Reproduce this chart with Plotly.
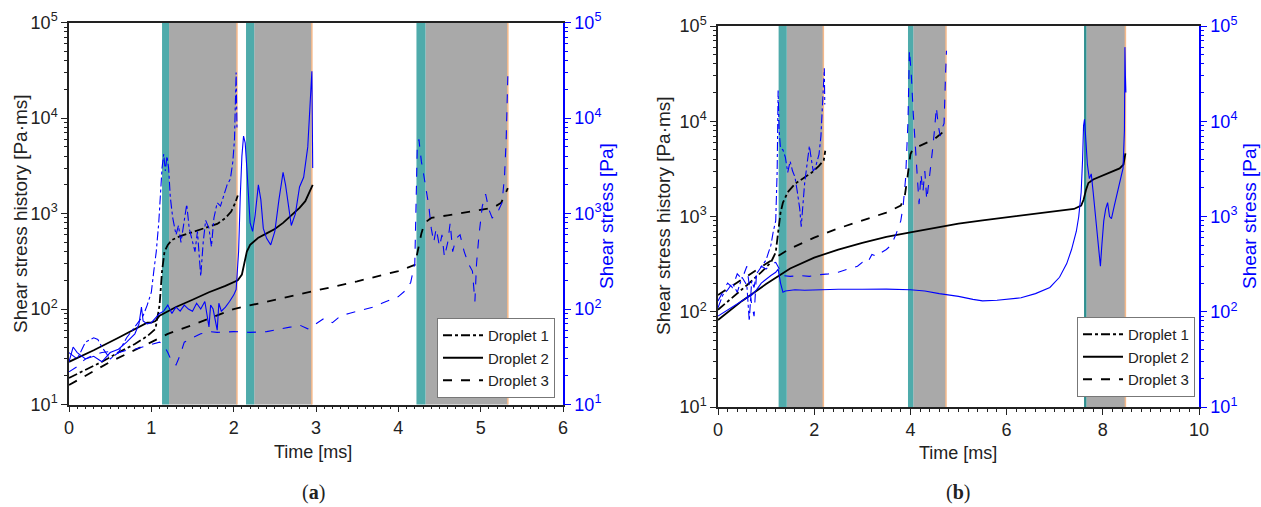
import plotly.graph_objects as go

# ---------------- Panel (a) data ----------------
a_t1 = [0, 0.2, 0.4, 0.6, 0.8, 0.95, 1.05, 1.1, 1.13, 1.16, 1.2, 1.25, 1.35, 1.5, 1.65, 1.8, 1.9, 1.97, 2.02, 2.05]
a_h1 = [19, 23, 28, 35, 43, 52, 62, 110, 250, 400, 470, 530, 580, 640, 700, 780, 900, 1050, 1300, 1550]
a_t2 = [0, 0.3, 0.6, 0.9, 0.95, 1.0, 1.05, 1.1, 1.3, 1.5, 1.7, 1.9, 2.05, 2.1, 2.13, 2.16, 2.2, 2.3, 2.4, 2.5, 2.6, 2.7, 2.8, 2.87, 2.92, 2.96]
a_h2 = [28, 37, 50, 68, 72, 72, 75, 85, 105, 125, 150, 175, 200, 230, 300, 400, 470, 560, 620, 690, 800, 950, 1150, 1350, 1650, 2000]
a_t3 = [0, 0.5, 1.0, 1.2, 1.5, 2.0, 2.5, 3.0, 3.5, 4.0, 4.2, 4.24, 4.28, 4.32, 4.4, 4.6, 4.8, 5.0, 5.15, 5.25, 5.33]
a_h3 = [16, 28, 45, 55, 68, 100, 125, 155, 195, 250, 290, 420, 620, 800, 900, 960, 1020, 1080, 1150, 1300, 1850]

a_st1 = [0, 0.1, 0.2, 0.3, 0.35, 0.4, 0.5, 0.6, 0.7, 0.8, 0.9, 0.95, 1.0, 1.03, 1.06, 1.09, 1.11, 1.13, 1.15, 1.17, 1.19, 1.21, 1.23, 1.26, 1.3, 1.33, 1.36, 1.4, 1.43, 1.46, 1.5, 1.53, 1.56, 1.6, 1.63, 1.66, 1.7, 1.73, 1.76, 1.8, 1.84, 1.88, 1.92, 1.96, 1.99, 2.01, 2.03, 2.04]
a_s1 = [35, 30, 45, 50, 48, 40, 30, 35, 50, 65, 85, 110, 150, 250, 400, 800, 1500, 3000, 4200, 2800, 4000, 3000, 1500, 900, 600, 750, 500, 800, 1250, 700, 500, 400, 650, 220, 500, 850, 700, 450, 900, 1300, 1200, 1600, 2000, 2300, 3500, 6000, 30000, 8000]
a_st2 = [0, 0.05, 0.1, 0.2, 0.3, 0.4, 0.5, 0.6, 0.7, 0.8, 0.85, 0.88, 0.9, 0.95, 1.0, 1.05, 1.1, 1.15, 1.2, 1.25, 1.3, 1.35, 1.4, 1.45, 1.5, 1.55, 1.6, 1.65, 1.7, 1.72, 1.75, 1.8, 1.82, 1.85, 1.9, 1.95, 2.0, 2.03, 2.06, 2.08, 2.1, 2.12, 2.14, 2.16, 2.18, 2.2, 2.23, 2.26, 2.3, 2.33, 2.36, 2.4, 2.45, 2.5, 2.55, 2.6, 2.63, 2.66, 2.7, 2.75, 2.8, 2.85, 2.9, 2.93, 2.95, 2.96]
a_s2 = [28, 40, 35, 30, 32, 28, 35, 38, 45, 55, 70, 105, 75, 70, 72, 80, 90, 95, 110, 90, 105, 95, 110, 100, 95, 115, 100, 120, 65, 110, 100, 60, 115, 95, 105, 120, 140, 160, 400, 1500, 4000, 6500, 5500, 3000, 1500, 800, 650, 950, 2000, 1400, 700, 550, 470, 650, 1400, 2700, 2000, 1300, 750, 1000, 1900, 2400, 5000, 15000, 31000, 3000]
a_st3 = [0, 0.1, 0.2, 0.3, 0.4, 0.5, 0.6, 0.7, 0.8, 0.9, 1.0, 1.1, 1.15, 1.2, 1.25, 1.3, 1.35, 1.4, 1.5, 1.6, 1.7, 1.8, 2.0, 2.2, 2.4, 2.5, 2.6, 2.7, 2.8, 2.9, 3.0, 3.1, 3.2, 3.3, 3.4, 3.5, 3.6, 3.7, 3.8, 3.9, 4.0, 4.1, 4.15, 4.2, 4.23, 4.25, 4.28, 4.31, 4.34, 4.37, 4.4, 4.43, 4.46, 4.5, 4.53, 4.56, 4.6, 4.63, 4.66, 4.7, 4.75, 4.8, 4.85, 4.9, 4.93, 4.95, 4.98, 5.02, 5.06, 5.1, 5.14, 5.18, 5.22, 5.26, 5.29, 5.31, 5.33]
a_s3 = [22, 25, 30, 33, 35, 36, 35, 37, 38, 40, 42, 45, 42, 35, 28, 26, 33, 45, 50, 55, 58, 57, 58, 57, 58, 60, 62, 65, 68, 62, 70, 80, 72, 85, 90, 95, 100, 105, 115, 125, 135, 160, 190, 300, 5000, 6000, 3500, 2500, 1800, 1200, 700, 500, 700, 450, 600, 350, 500, 800, 400, 550, 600, 400, 300, 250, 120, 300, 600, 1200, 1600, 1100, 900, 950, 1100, 1300, 2500, 6000, 28000]

# ---------------- Panel (b) data ----------------
b_t1 = [0, 0.3, 0.6, 0.9, 1.1, 1.2, 1.25, 1.3, 1.35, 1.45, 1.6, 1.8, 1.95, 2.1, 2.2, 2.23]
b_h1 = [105, 140, 190, 260, 330, 420, 650, 1100, 1400, 1800, 2200, 2600, 2900, 3400, 3900, 4900]
b_t2 = [0, 0.5, 1.0, 1.5, 2.0, 2.5, 3.0, 3.5, 4.0, 4.5, 5.0, 5.5, 6.0, 6.5, 7.0, 7.4, 7.55, 7.6, 7.65, 7.7, 7.8, 8.0, 8.2, 8.35, 8.43, 8.47]
b_h2 = [82, 130, 195, 285, 370, 450, 530, 610, 680, 760, 840, 910, 980, 1050, 1120, 1200, 1300, 1500, 1900, 2250, 2450, 2700, 2950, 3200, 3500, 4600]
b_t3 = [0, 0.5, 1.0, 1.3, 1.5, 2.0, 2.5, 3.0, 3.5, 3.8, 3.88, 3.94, 4.0, 4.05, 4.15, 4.3, 4.5, 4.65, 4.74]
b_h3 = [150, 220, 320, 400, 460, 600, 750, 900, 1100, 1300, 1600, 2600, 4500, 5100, 5400, 5800, 6500, 7500, 8800]

b_st1 = [0, 0.1, 0.2, 0.3, 0.4, 0.5, 0.6, 0.65, 0.7, 0.75, 0.8, 0.9, 1.0, 1.05, 1.1, 1.15, 1.2, 1.23, 1.25, 1.27, 1.3, 1.35, 1.4, 1.45, 1.5, 1.55, 1.6, 1.65, 1.7, 1.73, 1.76, 1.8, 1.85, 1.9, 1.94, 1.98, 2.02, 2.06, 2.1, 2.14, 2.18, 2.21, 2.22]
b_s1 = [110, 150, 170, 200, 160, 230, 190, 80, 210, 180, 250, 300, 350, 420, 500, 700, 900, 3000, 21000, 8000, 5200, 5000, 4200, 2900, 3800, 3000, 2600, 1800, 1200, 780, 1200, 2200, 3500, 5500, 4000, 3000, 3200, 3800, 4500, 7000, 20000, 36000, 15000]
b_st2 = [0, 0.2, 0.4, 0.6, 0.7, 0.8, 0.9, 1.0, 1.1, 1.2, 1.25, 1.3, 1.35, 1.4, 1.6, 1.8, 2.0, 2.5, 3.0, 3.5, 4.0, 4.3, 4.6, 5.0, 5.3, 5.5, 5.8, 6.0, 6.3, 6.6, 6.9, 7.1, 7.25, 7.35, 7.45, 7.5, 7.55, 7.58, 7.6, 7.62, 7.65, 7.68, 7.72, 7.76, 7.8, 7.84, 7.88, 7.92, 7.95, 7.98, 8.02, 8.06, 8.1, 8.14, 8.18, 8.24, 8.3, 8.36, 8.42, 8.45, 8.46, 8.47, 8.48]
b_s2 = [90, 105, 120, 140, 150, 170, 200, 220, 240, 260, 280, 200, 160, 165, 170, 168, 170, 172, 172, 173, 170, 165, 155, 145, 135, 130, 132, 135, 140, 155, 180, 230, 320, 450, 700, 1000, 1800, 4000, 9000, 10500, 5000, 3500, 2500, 2800, 1800, 1100, 700, 400, 300, 500, 900, 1200, 1400, 1000, 950, 1300, 1800, 2400, 3200, 8000, 60000, 30000, 20000]
b_st3 = [0, 0.1, 0.2, 0.3, 0.4, 0.5, 0.6, 0.7, 0.75, 0.8, 0.9, 1.0, 1.1, 1.2, 1.3, 1.35, 1.5, 1.7, 1.9, 2.1, 2.3, 2.5, 2.7, 2.9, 3.0, 3.1, 3.2, 3.3, 3.4, 3.5, 3.6, 3.7, 3.8, 3.85, 3.9, 3.95, 3.98, 4.02, 4.06, 4.1, 4.14, 4.18, 4.22, 4.26, 4.3, 4.34, 4.38, 4.42, 4.46, 4.5, 4.54, 4.58, 4.62, 4.66, 4.7, 4.73, 4.75]
b_s3 = [130, 160, 200, 180, 250, 220, 300, 120, 90, 250, 300, 280, 320, 330, 260, 240, 235, 240, 235, 245, 250, 260, 280, 300, 330, 320, 400, 380, 420, 450, 500, 650, 900, 1300, 2500, 10000, 56000, 30000, 12000, 6000, 2500, 1350, 2800, 1800, 3000, 1500, 2200, 3200, 5000, 8000, 14000, 9000, 7000, 8500, 9500, 30000, 55000]

# Shaded phases: (teal start, teal end, gray end)
a_bands = [(1.13, 1.215, 2.04), (2.15, 2.25, 2.95), (4.22, 4.33, 5.33)]
b_bands = [(1.26, 1.43, 2.19), (3.95, 4.06, 4.74), (7.61, 7.66, 8.47)]

names = ["Droplet 1", "Droplet 2", "Droplet 3"]
dashes = ["dashdot", "solid", "dash"]
decades = [10, 100, 1000, 10000, 100000]
dec_text = ["10<sup>1</sup>", "10<sup>2</sup>", "10<sup>3</sup>", "10<sup>4</sup>", "10<sup>5</sup>"]
minor_vals = [m * d for d in [10, 100, 1000, 10000] for m in range(2, 10)]

BLUE = "#0000ff"
FONT = "Liberation Sans, Arial, sans-serif"

fig = go.Figure()

def add_panel(hist, shear, xa, ya_h, ya_s, legend):
    for (t, v), nm, ds in zip(hist, names, dashes):
        fig.add_trace(go.Scatter(x=t, y=v, mode="lines", name=nm, legend=legend,
                                 line=dict(color="black", width=1.8, dash=ds),
                                 xaxis=xa, yaxis=ya_h, showlegend=True))
    for (t, v), ds in zip(shear, dashes):
        fig.add_trace(go.Scatter(x=t, y=v, mode="lines", showlegend=False,
                                 line=dict(color=BLUE, width=1.1, dash=ds),
                                 xaxis=xa, yaxis=ya_s))

add_panel([(a_t1, a_h1), (a_t2, a_h2), (a_t3, a_h3)],
          [(a_st1, a_s1), (a_st2, a_s2), (a_st3, a_s3)], "x", "y", "y2", "legend")
add_panel([(b_t1, b_h1), (b_t2, b_h2), (b_t3, b_h3)],
          [(b_st1, b_s1), (b_st2, b_s2), (b_st3, b_s3)], "x2", "y3", "y4", "legend2")

shapes = []
def add_bands(bands, xref, yref, last_dark=False):
    for i, (t0, t1, t2) in enumerate(bands):
        teal = "#2e8f8f" if (last_dark and i == len(bands) - 1) else "#4fabab"
        shapes.append(dict(type="rect", xref=xref, yref=yref, x0=t1, x1=t2, y0=0, y1=1,
                           fillcolor="#a9a9a9", line=dict(width=0), layer="below"))
        shapes.append(dict(type="rect", xref=xref, yref=yref, x0=t0, x1=t1, y0=0, y1=1,
                           fillcolor=teal, line=dict(width=0), layer="below"))
        shapes.append(dict(type="line", xref=xref, yref=yref, x0=t2, x1=t2, y0=0, y1=1,
                           line=dict(color="#f5b98a", width=1.5), layer="below"))

add_bands(a_bands, "x", "y domain")
add_bands(b_bands, "x2", "y3 domain", last_dark=True)

tickfont = dict(family=FONT, size=18, color="#222")

def xaxis_cfg(domain, rng, dtick, mdtick, anchor):
    return dict(domain=domain, range=rng, dtick=dtick, tick0=0, anchor=anchor,
                showline=True, linecolor="#222", linewidth=1.5, mirror=True,
                ticks="outside", ticklen=6, tickwidth=1.2, tickcolor="#222",
                minor=dict(dtick=mdtick, ticks="outside", ticklen=3, tickcolor="#222", showgrid=False),
                showgrid=False, zeroline=False, tickfont=tickfont, automargin=False)

def yaxis_cfg(domain, anchor, color, side="left", overlaying=None):
    d = dict(domain=domain, type="log", range=[1, 5], anchor=anchor, side=side,
             tickmode="array", tickvals=decades, ticktext=dec_text,
             showline=True, linecolor=color, linewidth=1.5,
             ticks="outside", ticklen=6, tickwidth=1.2, tickcolor=color,
             minor=dict(tickmode="array", tickvals=minor_vals, ticks="outside",
                        ticklen=3, tickcolor=color, showgrid=False),
             showgrid=False, zeroline=False, automargin=False,
             tickfont=dict(family=FONT, size=18, color=color if color == BLUE else "#222"))
    if overlaying:
        d["overlaying"] = overlaying
    return d

ax_dom = [69 / 1261, 563 / 1261]
ay_dom = [1 - 404.5 / 507, 1 - 22.7 / 507]
bx_dom = [718 / 1261, 1199 / 1261]
by_dom = [1 - 407 / 507, 1 - 26 / 507]

legend_cfg = lambda x, y: dict(x=x, y=y, xanchor="right", yanchor="bottom", xref="paper", yref="paper",
                               bgcolor="white", bordercolor="#777", borderwidth=1,
                               font=dict(family=FONT, size=15, color="#222"),
                               tracegroupgap=0, itemwidth=40)

ann = []
def txt(x, y, s, size=19, color="#222", angle=0, family=FONT):
    ann.append(dict(x=x / 1261, y=1 - y / 507, xref="paper", yref="paper", text=s, showarrow=False,
                    textangle=angle, font=dict(family=family, size=size, color=color),
                    xanchor="center", yanchor="middle"))

txt(21, 214, "Shear stress history [Pa·ms]", angle=-90)
txt(607, 216, "Shear stress [Pa]", color=BLUE, angle=-90)
txt(313, 452, "Time [ms]", size=18)
txt(313, 492, "(<b>a</b>)", size=20, family="Liberation Serif, Times New Roman, serif")
txt(664, 216, "Shear stress history [Pa·ms]", angle=-90)
txt(1250, 216, "Shear stress [Pa]", color=BLUE, angle=-90)
txt(958, 453, "Time [ms]", size=18)
txt(958, 492, "(<b>b</b>)", size=20, family="Liberation Serif, Times New Roman, serif")

fig.update_layout(
    width=1261, height=507, margin=dict(l=0, r=0, t=0, b=0, autoexpand=False),
    paper_bgcolor="white", plot_bgcolor="white",
    xaxis=xaxis_cfg(ax_dom, [0, 6], 1, 0.1, "y"),
    yaxis=yaxis_cfg(ay_dom, "x", "#222"),
    yaxis2=yaxis_cfg(ay_dom, "x", BLUE, side="right", overlaying="y"),
    xaxis2=xaxis_cfg(bx_dom, [0, 10], 2, 0.2, "y3"),
    yaxis3=yaxis_cfg(by_dom, "x2", "#222"),
    yaxis4=yaxis_cfg(by_dom, "x2", BLUE, side="right", overlaying="y3"),
    legend=legend_cfg(555 / 1261, 1 - 398 / 507),
    legend2=legend_cfg(1195 / 1261, 1 - 397 / 507),
    shapes=shapes, annotations=ann, showlegend=True,
)

fig.write_html("out.html")
